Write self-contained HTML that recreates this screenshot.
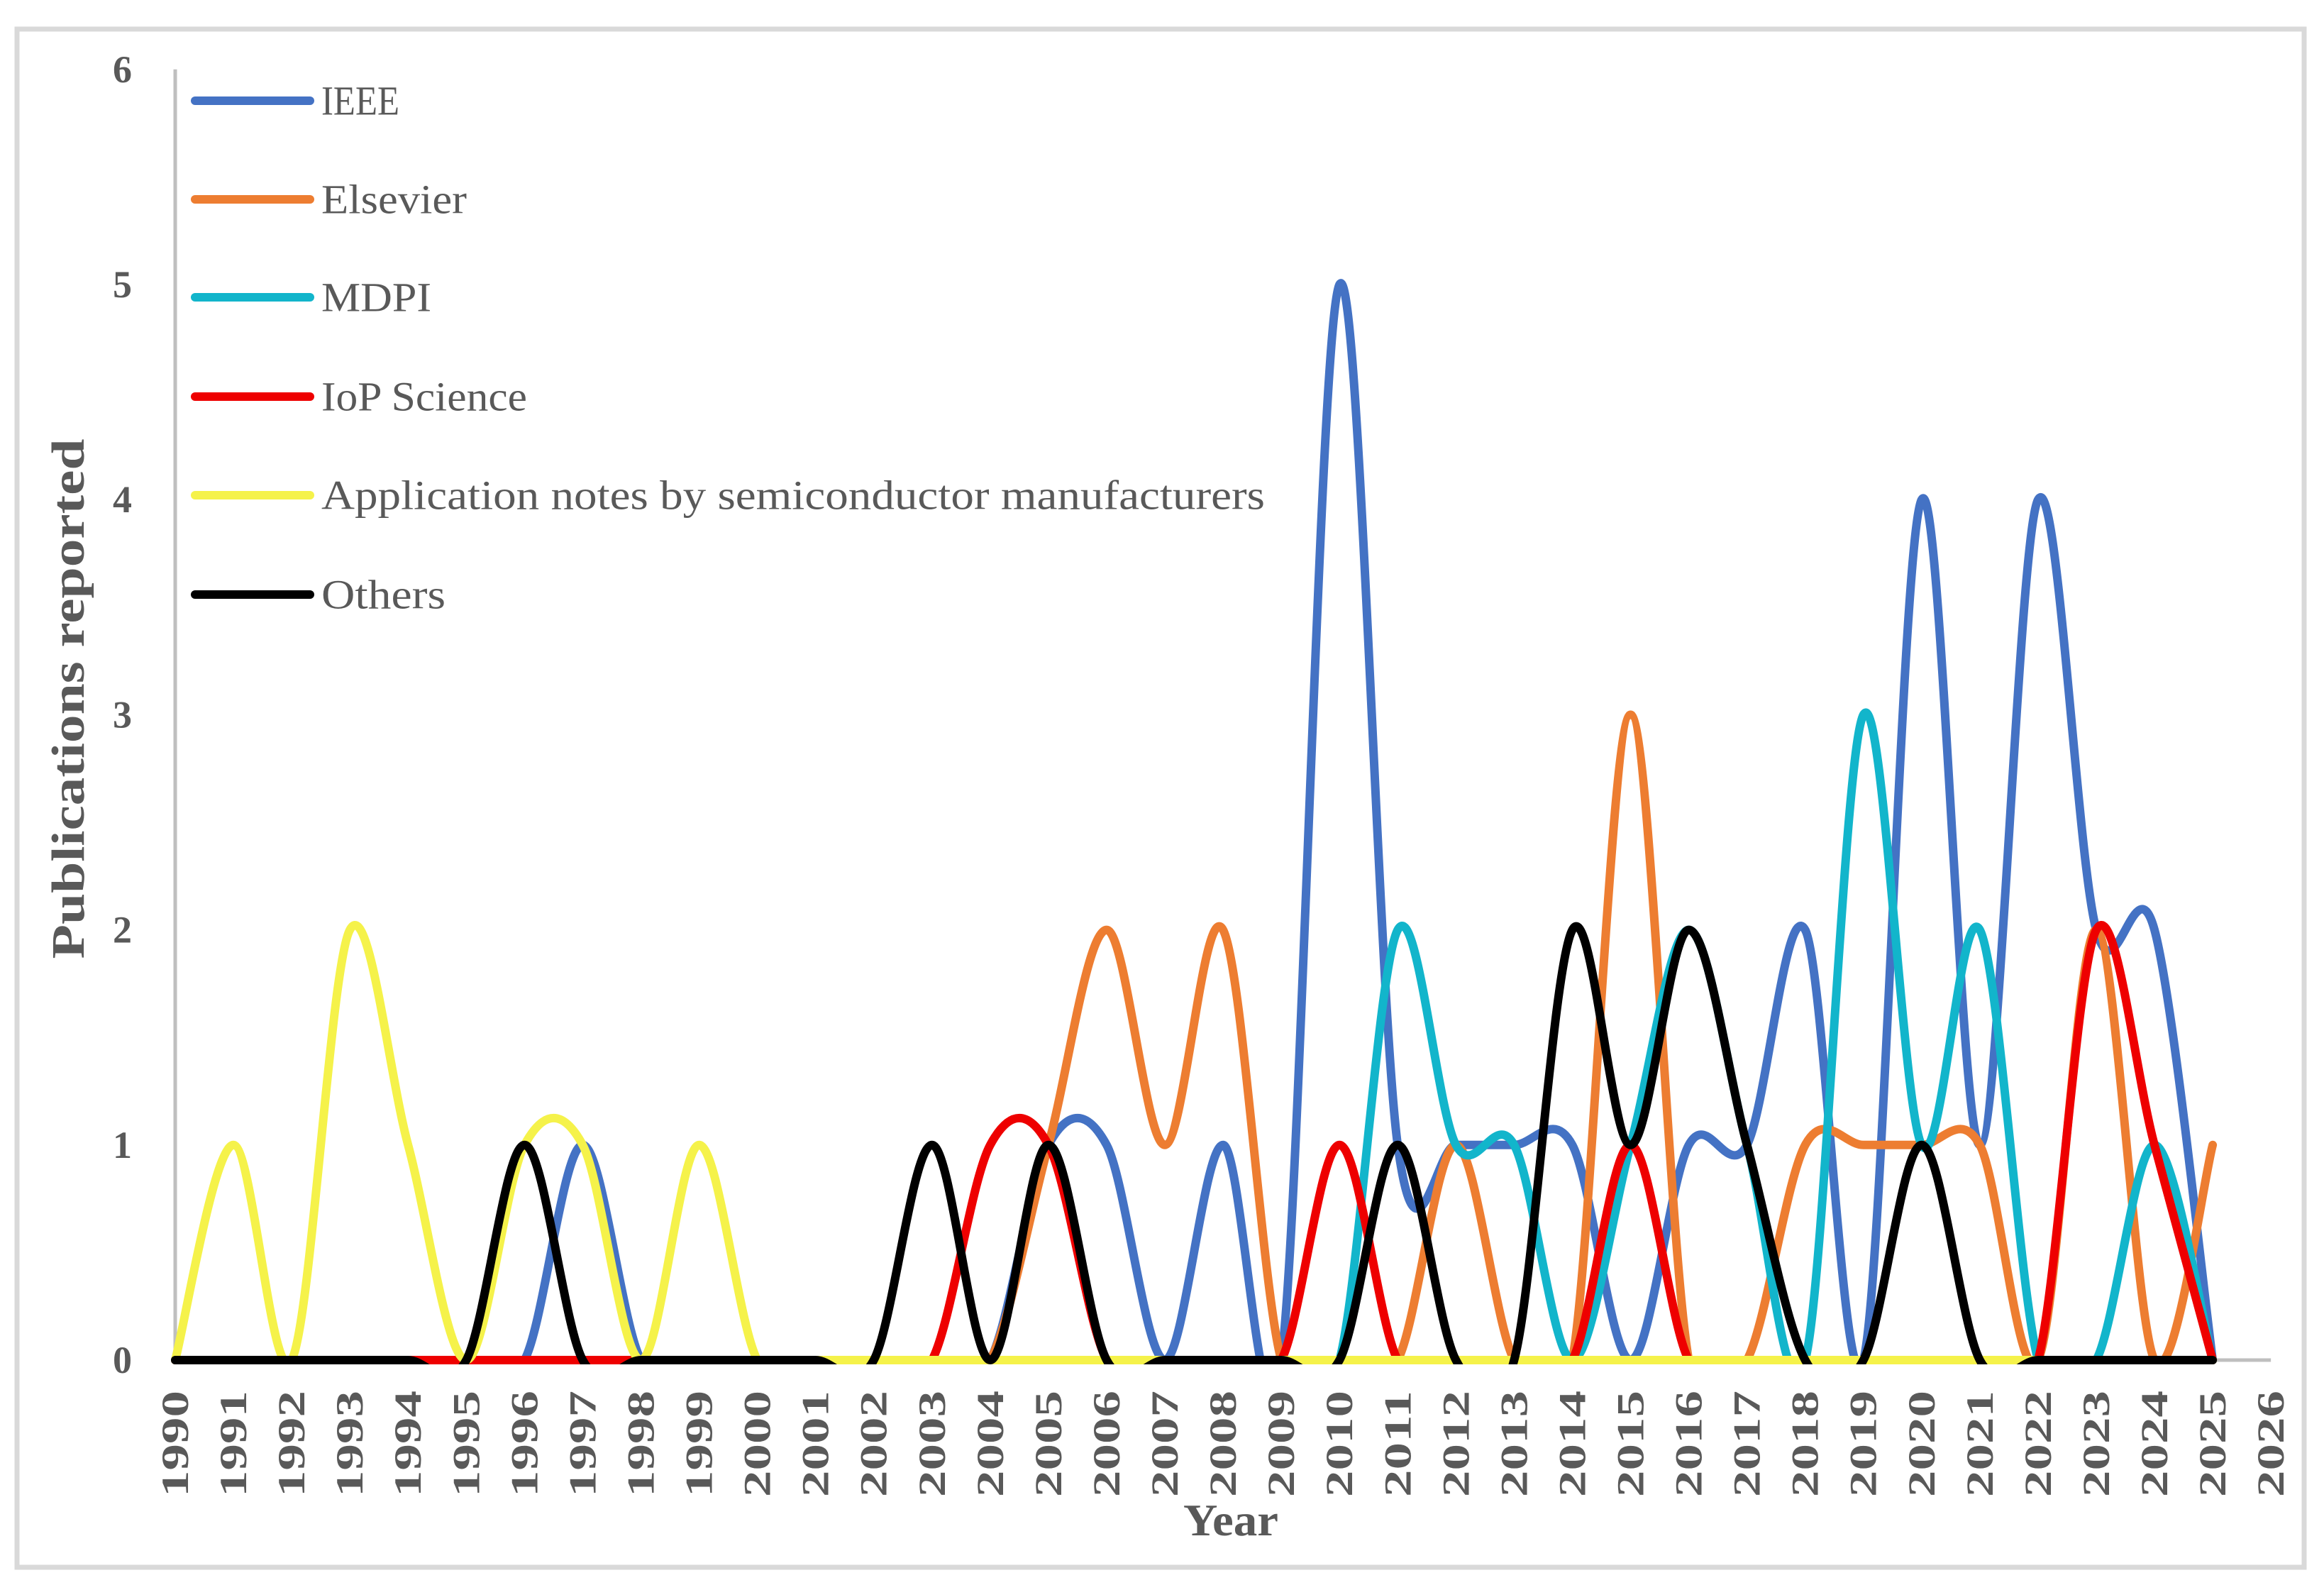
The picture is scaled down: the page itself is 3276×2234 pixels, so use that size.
<!DOCTYPE html>
<html><head><meta charset="utf-8"><style>
html,body{margin:0;padding:0;background:#fff}
svg{display:block}
text{font-family:"Liberation Serif",serif;fill:#595959}
</style></head><body>
<svg id="chart" width="3276" height="2234" viewBox="0 0 3276 2234" xmlns="http://www.w3.org/2000/svg">
<defs><clipPath id="plotclip"><rect x="0" y="0" width="3276" height="1923"/></clipPath></defs>
<rect x="24" y="41" width="3224" height="2168" fill="#fff" stroke="#d9d9d9" stroke-width="7"/>
<g id="axes"></g>
<g id="series" clip-path="url(#plotclip)"></g>
<g id="legend"></g>
<text transform="translate(118,985) rotate(-90)" text-anchor="middle" font-size="66" font-weight="bold" textLength="733" lengthAdjust="spacingAndGlyphs">Publications reported</text>
<text x="1735" y="2164" text-anchor="middle" font-size="64" font-weight="bold" textLength="134" lengthAdjust="spacingAndGlyphs">Year</text>
</svg>
<script>
const years = [];
for (let y = 1990; y <= 2025; y++) years.push(y);
const xTickLabels = [];
for (let y = 1990; y <= 2026; y++) xTickLabels.push(String(y));
const yTickLabels = ["0","1","2","3","4","5","6"];
const seriesNames = ["IEEE","Elsevier","MDPI","IoP Science","Application notes by semiconductor manufacturers","Others"];
const seriesColors = ["#4472c4","#ed7d31","#12b5cb","#ee0000","#f5f24a","#000000"];
const ieee      = [0,0,0,0,0,0,0,1,0,0,0,0,0,0,0,1,1,0,1,0,5,1,1,1,1,0,1,1,2,0,4,1,4,2,2,0];
const elsevier  = [0,0,0,0,0,0,0,0,0,0,0,0,0,0,0,1,2,1,2,0,0,0,1,0,0,3,0,0,1,1,1,1,0,2,0,1];
const mdpi      = [0,0,0,0,0,0,0,0,0,0,0,0,0,0,0,0,0,0,0,0,0,2,1,1,0,1,2,1,0,3,1,2,0,0,1,0];
const iop       = [0,0,0,0,0,0,0,0,0,0,0,0,0,0,1,1,0,0,0,0,1,0,0,0,0,1,0,0,0,0,0,0,0,2,1,0];
const appNotes  = [0,1,0,2,1,0,1,1,0,1,0,0,0,0,0,0,0,0,0,0,0,0,0,0,0,0,0,0,0,0,0,0,0,0,0,0];
const others    = [0,0,0,0,0,0,1,0,0,0,0,0,0,1,0,1,0,0,0,0,0,1,0,0,2,1,2,1,0,0,1,0,0,0,0,0];
const allSeries = [ieee, elsevier, mdpi, iop, appNotes, others];

const NS = "http://www.w3.org/2000/svg";
const X0 = 247, XSTEP = 82.06, Y0 = 1917, YUNIT = 303.2;
function xScale(year){ return X0 + (year - 1990) * XSTEP; }
function yScale(v){ return Y0 - v * YUNIT; }
function mk(tag, attrs, parent){ const e = document.createElementNS(NS, tag); for (const k in attrs) e.setAttribute(k, attrs[k]); parent.appendChild(e); return e; }

const axes = document.getElementById("axes");
const xAxis = mk("line", {x1: X0, y1: Y0, x2: xScale(2026), y2: Y0, stroke: "#bfbfbf", "stroke-width": 5}, axes);


const yAxis = mk("line", {x1: X0, y1: yScale(6), x2: X0, y2: Y0, stroke: "#bfbfbf", "stroke-width": 5}, axes);


yTickLabels.forEach((lab, i) => {
  const t = mk("text", {x: 186, y: yScale(i), "text-anchor": "end", "dominant-baseline": "central", "font-size": 54, "font-weight": "bold"}, axes);
  t.textContent = lab;
  
  
});
xTickLabels.forEach((lab, i) => {
  const x = xScale(1990 + i);
  const t = mk("text", {transform: `translate(${x},1960) rotate(-90)`, "text-anchor": "end", "dominant-baseline": "central", "font-size": 54, "font-weight": "bold", textLength: 150, lengthAdjust: "spacingAndGlyphs"}, axes);
  t.textContent = lab;
  
  
});

function smoothPath(vals){
  const pts = vals.map((v, i) => [xScale(years[i]), yScale(v)]);
  let d = `M${pts[0][0]},${pts[0][1]}`;
  for (let i = 0; i < pts.length - 1; i++) {
    const p0 = pts[Math.max(0, i - 1)], p1 = pts[i], p2 = pts[i + 1], p3 = pts[Math.min(pts.length - 1, i + 2)];
    const c1 = [p1[0] + (p2[0] - p0[0]) / 6, p1[1] + (p2[1] - p0[1]) / 6];
    const c2 = [p2[0] - (p3[0] - p1[0]) / 6, p2[1] - (p3[1] - p1[1]) / 6];
    d += ` C${c1[0]},${c1[1]} ${c2[0]},${c2[1]} ${p2[0]},${p2[1]}`;
  }
  return d;
}
const seriesKeys = ["ieee","elsevier","mdpi","iop-science","application-notes","others"];
const sg = document.getElementById("series");
allSeries.forEach((vals, i) => {
  const p = mk("path", {d: smoothPath(vals), fill: "none", stroke: seriesColors[i], "stroke-width": 12, "stroke-linecap": "round", "stroke-linejoin": "round"}, sg);
  
  
});

const lg = document.getElementById("legend");
const rowY = [142, 281, 419, 559, 698, 838];
const legendLen = [110, 205, 155, 290, 1330, 175];
seriesNames.forEach((name, i) => {
  const g = mk("g", {}, lg);
  
  
  mk("line", {x1: 275, y1: rowY[i], x2: 437, y2: rowY[i], stroke: seriesColors[i], "stroke-width": 12, "stroke-linecap": "round"}, g);
  const t = mk("text", {x: 453, y: rowY[i], "dominant-baseline": "central", "font-size": 58, textLength: legendLen[i], lengthAdjust: "spacingAndGlyphs"}, g);
  t.textContent = name;
});
</script>
</body></html>
